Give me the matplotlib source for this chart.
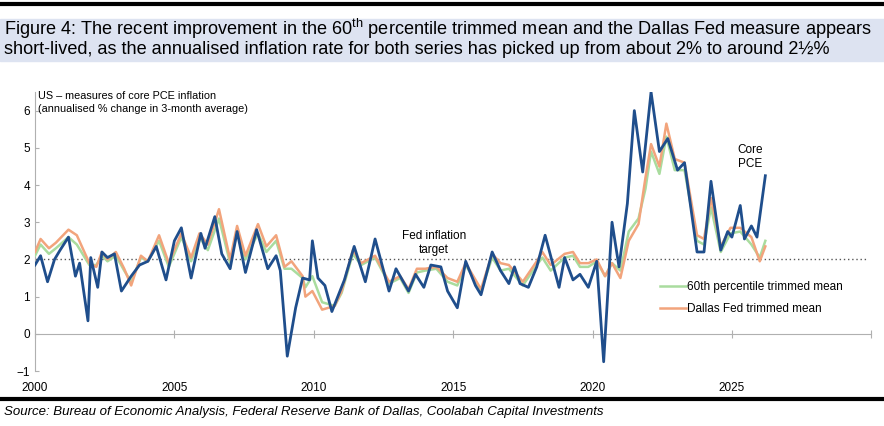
import matplotlib.pyplot as plt
from matplotlib.patches import Rectangle
from matplotlib.lines import Line2D

plt.rcParams['font.family'] = ['Liberation Sans', 'DejaVu Sans']
plt.rcParams['mathtext.fontset'] = 'custom'
plt.rcParams['mathtext.rm'] = 'Liberation Sans'

# core PCE
core_x = [2000.0, 2000.2, 2000.45, 2000.7, 2000.9, 2001.2, 2001.45, 2001.6, 2001.9, 2002.0,
          2002.25, 2002.4, 2002.6, 2002.85, 2003.1, 2003.45, 2003.75, 2004.05, 2004.35, 2004.7,
          2005.0, 2005.25, 2005.6, 2005.95, 2006.1, 2006.45, 2006.7, 2007.0, 2007.25, 2007.55,
          2007.95, 2008.35, 2008.65, 2008.8, 2009.05, 2009.35, 2009.6, 2009.85, 2009.95, 2010.15,
          2010.4, 2010.65, 2011.1, 2011.45, 2011.85, 2012.2, 2012.7, 2012.95, 2013.4, 2013.65,
          2013.95, 2014.2, 2014.56, 2014.8, 2015.15, 2015.45, 2015.8, 2016.0, 2016.4, 2016.7,
          2017.0, 2017.2, 2017.4, 2017.7, 2018.0, 2018.3, 2018.8, 2019.0, 2019.3, 2019.55,
          2019.85, 2020.15, 2020.4, 2020.7, 2020.95, 2021.25, 2021.5, 2021.8, 2022.1, 2022.4,
          2022.7, 2023.05, 2023.3, 2023.75, 2024.0, 2024.25, 2024.6, 2024.85, 2025.0, 2025.3,
          2025.45, 2025.7, 2025.9, 2026.2]
core_y = [1.85, 2.1, 1.4, 2.0, 2.25, 2.6, 1.55, 1.9, 0.35, 2.05,
          1.25, 2.2, 2.05, 2.15, 1.15, 1.55, 1.85, 1.95, 2.35, 1.45,
          2.5, 2.85, 1.5, 2.7, 2.3, 3.15, 2.15, 1.75, 2.75, 1.65,
          2.8, 1.75, 2.1, 1.7, -0.6, 0.7, 1.5, 1.45, 2.5, 1.5,
          1.3, 0.6, 1.45, 2.35, 1.4, 2.55, 1.15, 1.75, 1.15, 1.6,
          1.25, 1.85, 1.8, 1.15, 0.7, 1.95, 1.3, 1.05, 2.2, 1.7,
          1.35, 1.8, 1.35, 1.25, 1.8, 2.65, 1.25, 2.05, 1.45, 1.6,
          1.25, 1.95, -0.75, 3.0, 1.8, 3.5, 6.0, 4.35, 6.5, 4.9,
          5.25, 4.4, 4.6, 2.2, 2.2, 4.1, 2.25, 2.75, 2.6, 3.45,
          2.55, 2.9, 2.6, 4.25]

tm_x = [2000.0, 2000.2, 2000.5, 2000.75, 2001.2, 2001.5, 2001.95, 2002.2, 2002.4, 2002.6,
        2002.9, 2003.2, 2003.45, 2003.8, 2004.05, 2004.45, 2004.8, 2005.25, 2005.6, 2005.9,
        2006.2, 2006.6, 2007.0, 2007.25, 2007.55, 2008.0, 2008.3, 2008.65, 2008.95, 2009.2,
        2009.6, 2009.7, 2009.95, 2010.3, 2010.75, 2011.0, 2011.4, 2011.7, 2012.2, 2012.7,
        2013.1, 2013.4, 2013.7, 2014.0, 2014.4, 2014.8, 2015.15, 2015.45, 2016.0, 2016.4,
        2016.7, 2017.0, 2017.5, 2018.0, 2018.2, 2018.5, 2019.0, 2019.3, 2019.55, 2019.85,
        2020.15, 2020.45, 2020.7, 2021.0, 2021.3, 2021.65, 2021.9, 2022.1, 2022.4, 2022.65,
        2022.95, 2023.3, 2023.75, 2024.0, 2024.25, 2024.6, 2024.95, 2025.3, 2025.7, 2026.0,
        2026.2]
dallas_y = [2.2, 2.55, 2.3, 2.45, 2.8, 2.65, 1.9, 1.8, 2.2, 2.0,
            2.2, 1.75, 1.3, 2.1, 1.95, 2.65, 1.9, 2.7, 2.05, 2.7,
            2.4, 3.35, 2.0, 2.9, 2.1, 2.95, 2.35, 2.65, 1.8, 1.95,
            1.55, 1.0, 1.15, 0.65, 0.75, 1.15, 2.25, 1.9, 2.1, 1.4,
            1.55, 1.2, 1.75, 1.75, 1.8, 1.5, 1.4, 1.9, 1.2, 2.15,
            1.9, 1.85, 1.4, 1.95, 2.2, 1.85, 2.15, 2.2, 1.9, 1.9,
            2.0, 1.55, 1.9, 1.5, 2.5, 2.95, 4.2, 5.1, 4.5, 5.65,
            4.7, 4.6, 2.65, 2.55, 3.65, 2.35, 2.85, 2.85, 2.6, 1.95,
            2.35]
p60_y = [2.1, 2.4, 2.15, 2.3, 2.6, 2.4, 1.85, 1.85, 2.1, 1.95,
         2.1, 1.7, 1.4, 2.05, 1.95, 2.5, 1.8, 2.6, 1.95, 2.6,
         2.25, 3.1, 1.9, 2.75, 2.0, 2.7, 2.2, 2.5, 1.75, 1.75,
         1.5, 1.25, 1.55, 0.85, 0.75, 1.1, 2.15, 1.85, 2.05, 1.35,
         1.5, 1.1, 1.65, 1.7, 1.75, 1.4, 1.3, 1.85, 1.15, 2.05,
         1.7, 1.75, 1.3, 1.85, 2.05, 1.7, 2.05, 2.1, 1.8, 1.8,
         1.95, 1.55, 1.9, 1.7, 2.75, 3.1, 3.9, 4.9, 4.3, 5.3,
         4.4, 4.4, 2.5, 2.4, 3.4, 2.2, 2.7, 2.75, 2.4, 2.05,
         2.5]

years = [2000, 2005, 2010, 2015, 2020, 2025, 2030]
year_labels = ['2000', '2005', '2010', '2015', '2020', '2025', '']

fig = plt.figure(figsize=(8.84, 4.26), dpi=100)
fig.patches.append(Rectangle((0, 0.857), 1, 0.098, transform=fig.transFigure, color='#dde3f1', zorder=0))
fig.add_artist(Line2D([0, 1], [0.991, 0.991], color='black', lw=3))
fig.add_artist(Line2D([0, 1], [0.063, 0.063], color='black', lw=3))
fig.text(0.005, 0.933, 'Figure 4: The recent improvement in the 60$^{\\mathrm{th}}$ percentile trimmed mean and the Dallas Fed measure appears',
         fontsize=13.1, va='center')
fig.text(0.005, 0.883, 'short-lived, as the annualised inflation rate for both series has picked up from about 2% to around 2½%',
         fontsize=13.1, va='center')
fig.text(0.043, 0.775, 'US \u2013 measures of core PCE inflation', fontsize=7.8, va='center')
fig.text(0.043, 0.744, '(annualised % change in 3-month average)', fontsize=7.8, va='center')
fig.text(0.005, 0.033, 'Source: Bureau of Economic Analysis, Federal Reserve Bank of Dallas, Coolabah Capital Investments',
         fontsize=9.5, style='italic', va='center')

ax = fig.add_axes([0.0396, 0.129, 0.946, 0.655])
ax.set_xlim(2000, 2030)
ax.set_ylim(-1, 6.5)
ax.axhline(2, xmin=0, xmax=0.995, color='#555555', ls=(0, (1, 2)), lw=1)
ax.plot(core_x, core_y, color='#1f4e8c', lw=2, zorder=4)
ax.plot(tm_x, p60_y, color='#a9dc9e', lw=1.8, zorder=3)
ax.plot(tm_x, dallas_y, color='#f2a47c', lw=1.8, zorder=3)

for s in ['top', 'right']:
    ax.spines[s].set_visible(False)
ax.spines['bottom'].set_position(('data', 0))
ax.spines['bottom'].set_color('#b0b0b0')
ax.spines['left'].set_color('#b0b0b0')
ax.set_xticks(years)
ax.set_xticklabels(year_labels)
ax.set_yticks(range(-1, 7))
ax.tick_params(axis='x', direction='inout', length=6, color='#b0b0b0', pad=32, labelsize=8.5)
ax.tick_params(axis='y', direction='in', length=3, color='#b0b0b0', labelsize=8.5)

ax.text(2014.3, 2.45, 'Fed inflation\ntarget', ha='center', va='center', fontsize=8.5)
ax.text(2026.1, 4.75, 'Core\nPCE', ha='right', va='center', fontsize=8.5, multialignment='right')

handles = [Line2D([], [], color='#a9dc9e', lw=1.8), Line2D([], [], color='#f2a47c', lw=1.8)]
ax.legend(handles, ['60th percentile trimmed mean', 'Dallas Fed trimmed mean'], loc='upper left',
          bbox_to_anchor=(0.735, 0.36), frameon=False, handlelength=2.2,
          handletextpad=0.1, labelspacing=0.8, prop={'size': 8.5})

fig.savefig('out.png', dpi=100)
